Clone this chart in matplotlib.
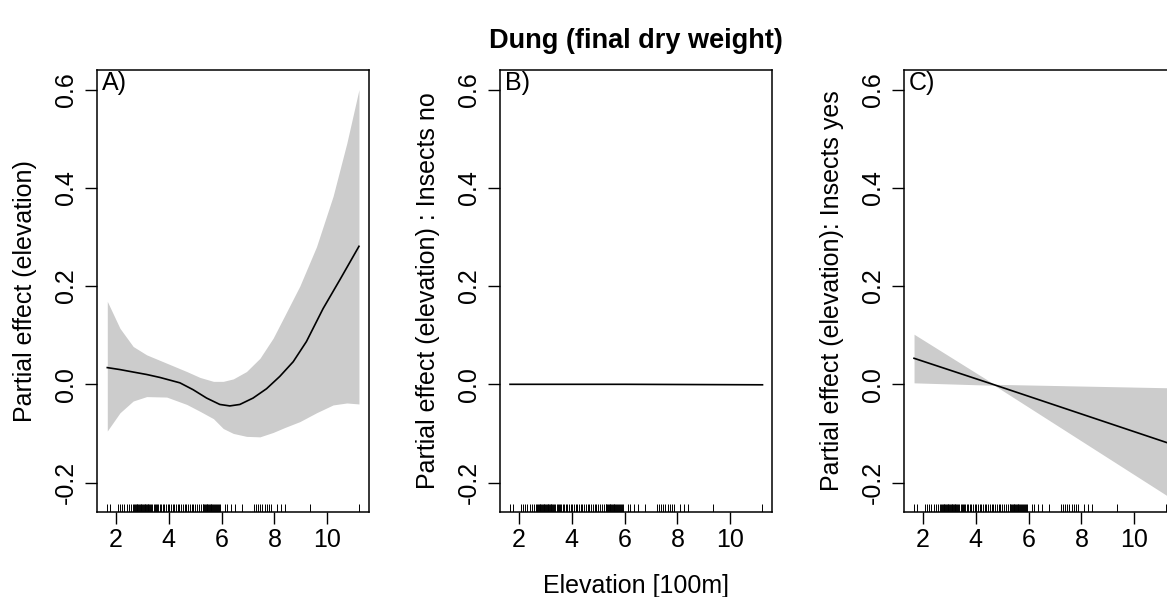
import numpy as np
import matplotlib
matplotlib.use("Agg")
import matplotlib.pyplot as plt

plt.rcParams['font.family'] = ['Liberation Sans', 'DejaVu Sans']
plt.rcParams['font.size'] = 18

# Panel A: smooth of elevation (fit + confidence band)
a_x = [1.67, 2.15, 2.65, 3.16, 3.66, 4.42, 4.92, 5.43, 5.93, 6.31, 6.69, 7.19, 7.70, 8.20,
       8.71, 9.21, 9.84, 10.5, 11.2]
a_fit = [0.034, 0.030, 0.025, 0.020, 0.014, 0.003, -0.011, -0.028, -0.041, -0.044, -0.041,
         -0.028, -0.009, 0.016, 0.046, 0.087, 0.154, 0.215, 0.281]

a_band_x = [1.67, 2.15, 2.65, 3.16, 3.92, 4.68, 5.18, 5.69, 6.06, 6.44, 6.94, 7.45, 7.95,
            8.39, 8.96, 9.59, 10.22, 10.74, 11.2]
a_upper = [0.169, 0.114, 0.077, 0.060, 0.043, 0.026, 0.014, 0.006, 0.006, 0.011, 0.026,
           0.053, 0.094, 0.140, 0.200, 0.280, 0.383, 0.491, 0.600]
a_lower = [-0.095, -0.058, -0.034, -0.025, -0.026, -0.041, -0.055, -0.070, -0.090, -0.100,
           -0.106, -0.107, -0.098, -0.088, -0.076, -0.058, -0.042, -0.038, -0.040]

# Panel B: Insects no (flat)
b_x = [1.66, 6.0, 11.22]
b_fit = [0.0, 0.0, -0.001]

# Panel C: Insects yes (linear)
c_x = [1.66, 4.7, 11.25]
c_fit = [0.053, -0.001, -0.119]
c_upper = [0.102, 0.0, -0.007]
c_lower = [0.003, -0.002, -0.227]

# observed elevations (rug)
rug = [1.67, 1.77, 2.09, 2.16, 2.24, 2.32, 2.40, 2.49, 2.57, 2.64, 2.68, 2.72, 2.75, 2.78,
       2.81, 2.84, 2.87, 2.90, 2.93, 2.96, 2.99, 3.02, 3.05, 3.08, 3.11, 3.14, 3.17, 3.20,
       3.23, 3.26, 3.29, 3.33, 3.38, 3.43, 3.47, 3.52, 3.56, 3.60, 3.66, 3.72, 3.78, 3.83,
       3.90, 3.96, 4.02, 4.08, 4.15, 4.21, 4.27, 4.34, 4.40, 4.46, 4.53, 4.60, 4.66, 4.72,
       4.80, 4.87, 4.93, 5.00, 5.08, 5.15, 5.22, 5.28, 5.31, 5.34, 5.37, 5.40, 5.43, 5.46,
       5.49, 5.52, 5.55, 5.58, 5.61, 5.64, 5.67, 5.70, 5.74, 5.78, 5.82, 5.86, 5.90, 5.95,
       6.11, 6.21, 6.36, 6.49, 6.78, 7.22, 7.31, 7.37, 7.45, 7.54, 7.63, 7.70, 7.80, 7.88,
       8.11, 8.23, 8.40, 9.33, 11.22]

x_ticks = [2, 4, 6, 8, 10]
y_ticks = [-0.2, 0.0, 0.2, 0.4, 0.6]
y_tick_labels = ['-0.2', '0.0', '0.2', '0.4', '0.6']
panel_letters = ['A)', 'B)', 'C)']
y_labels = ['Partial effect (elevation)',
            'Partial effect (elevation) : Insects no',
            'Partial effect (elevation): Insects yes']

W, H = 1167, 597
fig = plt.figure(figsize=(W / 100, H / 100), dpi=100)


def make_axes(left_px):
    # axes box in pixel units: 272 wide, top at 70, bottom at 512
    return fig.add_axes([left_px / W, (H - 512) / H, 272 / W, 442 / H])


def style_axes(ax, letter, ylabel):
    ax.set_xlim(1.28, 11.58)
    ax.set_ylim(-0.26, 0.64)
    ax.set_xticks(x_ticks)
    ax.set_yticks(y_ticks)
    ax.set_yticklabels(y_tick_labels)
    for lab in ax.get_yticklabels():
        lab.set_rotation(90)
        lab.set_va('center')
    ax.tick_params(axis='x', length=8.5, width=1.0, pad=3.0)
    ax.tick_params(axis='y', length=8.5, width=1.0, pad=5.0)
    for sp in ax.spines.values():
        sp.set_linewidth(1.1)
    ax.annotate(letter, xy=(0, 1), xycoords='axes fraction', xytext=(3.5, -1),
                textcoords='offset points', ha='left', va='top')
    ax.vlines(rug, 0, 0.017, transform=ax.get_xaxis_transform(), color='black', lw=0.7)
    # y label, baseline ~65 px left of the axis
    left = ax.get_position().x0 * W
    fig.text((left - 65) / W, 1 - 291 / H, ylabel, rotation=90, rotation_mode='anchor',
             ha='center', va='baseline')


ax_a = make_axes(97)
ax_a.fill_between(a_band_x, a_lower, a_upper, color='#cccccc', lw=0)
ax_a.plot(a_x, a_fit, color='black', lw=1.2)
style_axes(ax_a, panel_letters[0], y_labels[0])

ax_b = make_axes(500)
ax_b.plot(b_x, b_fit, color='black', lw=1.2)
style_axes(ax_b, panel_letters[1], y_labels[1])

ax_c = make_axes(904)
ax_c.fill_between(c_x, c_lower, c_upper, color='#cccccc', lw=0)
ax_c.plot(c_x, c_fit, color='black', lw=1.2)
style_axes(ax_c, panel_letters[2], y_labels[2])

fig.text(636 / W, 1 - 48 / H, 'Dung (final dry weight)', ha='center', va='baseline',
         fontweight='bold', fontsize=19.5)
fig.text(636 / W, 1 - 593 / H, 'Elevation [100m]', ha='center', va='baseline')

fig.savefig('out.png', dpi=100)
